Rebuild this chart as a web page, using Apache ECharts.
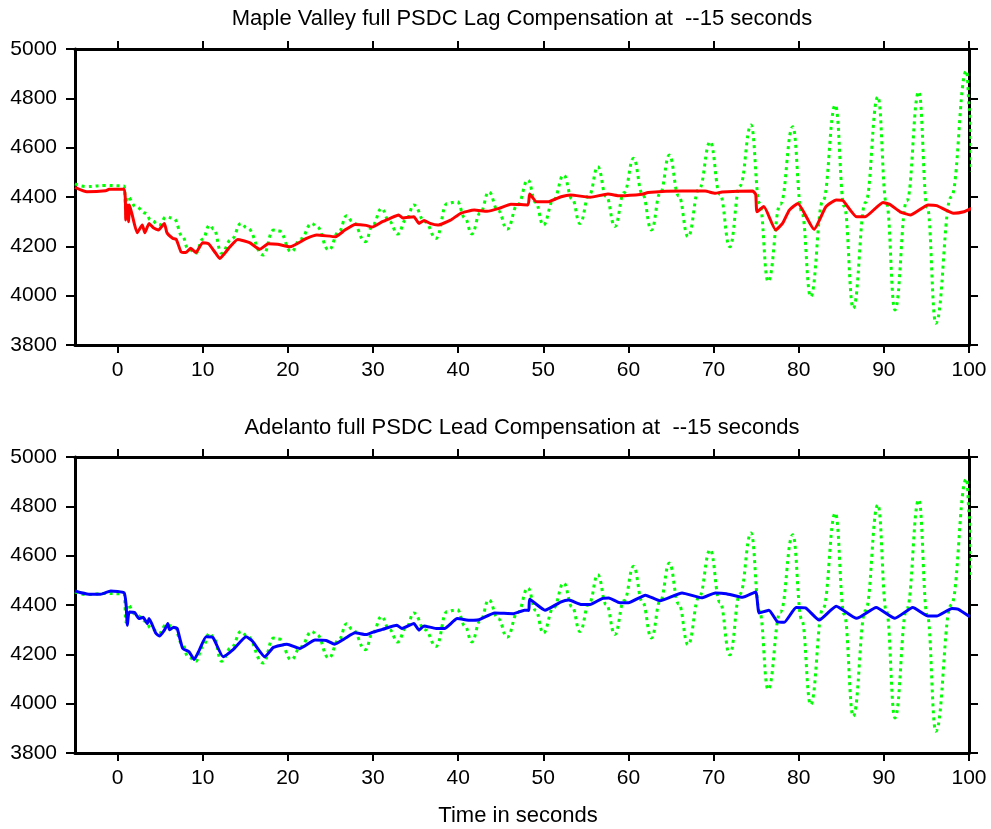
<!DOCTYPE html>
<html>
<head>
<meta charset="utf-8">
<script src="https://cdn.jsdelivr.net/npm/echarts@6/dist/echarts.min.js"></script>
<style>
html,body{margin:0;padding:0;background:#fff;}
#chart{width:991px;height:829px;}
</style>
</head>
<body>
<div id="chart"></div>
<script>
// ---- Data ----
const titleTop = "Maple Valley full PSDC Lag Compensation at  --15 seconds";
const titleBottom = "Adelanto full PSDC Lead Compensation at  --15 seconds";
const xTitle = "Time in seconds";
const xTicks = [0, 10, 20, 30, 40, 50, 60, 70, 80, 90, 100];
const yTicks = [3800, 4000, 4200, 4400, 4600, 4800, 5000];

// Base case (no PSDC compensation) - green dotted, same in both panels
const baseT = [-5, -3.7, -1.5, 0.77, 1.0, 1.15, 2.15, 3.3, 3.9, 4.9, 5.7, 6.6, 7.65, 8.24, 9.2, 10.0, 10.8, 11.3, 12.2, 13.4, 14.5, 15.2, 17.1, 18.3, 19.0, 20.4, 21.5, 22.8, 23.4, 24.8, 26.0, 26.9, 27.6, 29.1, 30.0, 31.0,
  31.9, 32.9, 33.9, 34.8, 36.1, 37.4, 38.7, 39.9, 40.8, 41.6, 42.6, 43.6, 44.7, 45.75, 47.0, 48.2, 49.1, 50.0, 51.2, 52.4, 53.4, 54.3, 55.4, 56.4, 57.4, 58.4, 59.5, 60.6, 61.65, 62.7, 63.75, 64.8, 65.9, 67.0, 68.3, 69.6, 70.75, 71.9, 73.1, 74.4, 75.4, 76.4, 77.85, 79.3, 80.35, 81.4, 82.85, 84.3, 85.35, 86.4, 87.85, 89.3, 90.3, 91.3, 92.7, 94.1, 95.1, 96.1, 97.9, 99.7, 100.1, 100.3];
const baseV = [4453, 4442, 4447, 4445, 4330, 4401, 4361, 4334, 4307, 4286, 4320, 4313, 4239, 4192, 4172, 4230, 4286, 4270, 4172, 4230, 4293, 4275, 4165, 4266, 4262, 4178, 4230, 4293, 4280, 4185, 4260, 4324, 4300, 4219, 4290, 4354,
  4302, 4250, 4309, 4368, 4300, 4232, 4374, 4381, 4315, 4250, 4336, 4421, 4345, 4269, 4369, 4469, 4378, 4286, 4388, 4489, 4391, 4293, 4408, 4523, 4402, 4280, 4418, 4557, 4412, 4266, 4418, 4570, 4405, 4239, 4432, 4624, 4411, 4198, 4445, 4692, 4375, 4057, 4371, 4685, 4341, 3996, 4385, 4773, 4361, 3949, 4378, 4807, 4375, 3942, 4385, 4827, 4358, 3888, 4400, 4912, 4750, 4503];

// Maple Valley lag compensation - red
const lagT = [-5, -3.6, -1.4, -1.0, 0.77, 0.97, 1.2, 1.3, 1.4, 1.7, 2.3, 2.9, 3.2, 3.7, 4.2, 4.8, 5.5, 5.8, 6.5, 6.9, 7.45, 8.0, 8.6, 9.2, 10.0, 10.7, 11.4, 12.0, 13.2, 14.1, 15.5, 16.7, 17.7, 18.8, 20.25, 22.2, 23.4, 25.6, 26.7, 27.9, 29.2, 29.9, 31.1, 32.0, 33.0, 33.5, 34.8, 35.4, 36.0, 36.7, 37.6, 39.1, 40.3, 41.9, 43.4, 44.8, 46.2, 48.2, 48.4, 49.2, 50.6, 52.1, 53.2, 55.5, 57.6, 59.0, 61.6, 62.3, 66.3, 69.0, 70.2, 71.0, 74.6, 74.95, 75.1, 75.9, 77.3, 78.1, 78.9, 79.9, 81.8, 83.2, 84.4, 85.2, 86.8, 87.8, 89.9, 90.7, 91.9, 93.1, 95.2, 96.2, 98.2, 99.4, 100.3];
const lagV = [4439, 4421, 4425, 4431, 4431, 4307, 4368, 4300, 4368, 4330, 4255, 4286, 4255, 4293, 4275, 4266, 4293, 4255, 4232, 4228, 4178, 4175, 4192, 4175, 4215, 4210, 4178, 4151, 4198, 4228, 4215, 4188, 4210, 4208, 4198, 4232, 4246, 4239, 4266, 4289, 4285, 4278, 4300, 4313, 4327, 4315, 4320, 4293, 4305, 4293, 4286, 4306, 4334, 4347, 4342, 4354, 4371, 4368, 4412, 4381, 4381, 4401, 4408, 4399, 4412, 4405, 4411, 4418, 4424, 4424, 4415, 4420, 4424, 4410, 4340, 4361, 4266, 4293, 4347, 4374, 4269, 4361, 4388, 4385, 4320, 4320, 4378, 4370, 4340, 4327, 4368, 4365, 4334, 4340, 4354];

// Adelanto lead compensation - blue
const leadT = [-5, -3.4, -2.0, -0.8, 0.77, 1.0, 1.15, 1.36, 2.0, 2.5, 3.0, 3.5, 3.7, 4.5, 4.9, 5.5, 5.9, 6.1, 6.6, 7.0, 7.65, 8.4, 9.0, 9.6, 10.4, 11.2, 12.4, 13.6, 15.1, 15.8, 17.3, 18.3, 19.9, 21.4, 23.2, 24.5, 25.5, 26.7, 27.9, 29.2, 30.0, 31.1, 32.8, 33.4, 34.8, 35.4, 36.0, 37.4, 38.4, 39.9, 41.5, 42.4, 44.3, 46.5, 47.8, 48.3, 48.4, 50.2, 52.1, 53.0, 54.5, 55.5, 56.9, 57.7, 59.0, 60.0, 62.0, 63.7, 66.3, 68.6, 70.2, 71.5, 73.4, 74.95, 75.35, 76.5, 77.5, 78.3, 79.7, 80.8, 82.4, 84.4, 86.8, 89.1, 91.3, 93.4, 95.2, 96.2, 98.0, 98.7, 100.1];
const leadV = [4457, 4444, 4444, 4457, 4449, 4400, 4318, 4372, 4370, 4345, 4350, 4325, 4345, 4285, 4274, 4298, 4325, 4300, 4310, 4305, 4224, 4210, 4179, 4217, 4271, 4268, 4190, 4220, 4271, 4255, 4190, 4228, 4241, 4224, 4258, 4256, 4241, 4264, 4287, 4280, 4290, 4301, 4318, 4305, 4325, 4298, 4315, 4305, 4305, 4345, 4338, 4340, 4368, 4365, 4379, 4378, 4423, 4379, 4413, 4420, 4402, 4402, 4426, 4428, 4409, 4409, 4440, 4417, 4449, 4429, 4449, 4446, 4431, 4453, 4368, 4379, 4332, 4330, 4390, 4388, 4339, 4395, 4346, 4390, 4346, 4390, 4355, 4355, 4386, 4383, 4352];

const zip = (t, v) => t.map((x, i) => [x, v[i]]);

// ---- Chart ----
const FONT = '"Liberation Sans", Arial, sans-serif';
const chart = echarts.init(document.getElementById('chart'), null, {renderer: 'canvas'});

const gridL = 75, gridW = 894, gridH = 296;
const tops = [49, 457];

function xAxes(gi) {
  const common = {
    type: 'value', gridIndex: gi, min: -5, max: 100,
    splitLine: {show: false},
    axisLine: {show: true, onZero: false, lineStyle: {color: '#000', width: 3}},
    axisTick: {show: true, inside: false, length: 8, customValues: xTicks, lineStyle: {color: '#000', width: 2}},
  };
  return [
    Object.assign({}, common, {
      position: 'bottom',
      axisLabel: {show: true, customValues: xTicks, margin: 15, fontSize: 21, color: '#000', fontFamily: FONT}
    }),
    Object.assign({}, common, {
      position: 'top',
      axisLabel: {show: false}
    })
  ];
}
function yAxes(gi) {
  const common = {
    type: 'value', gridIndex: gi, min: yTicks[0], max: yTicks[yTicks.length - 1], interval: 200,
    splitLine: {show: false},
    axisLine: {show: true, onZero: false, lineStyle: {color: '#000', width: 3}},
    axisTick: {show: true, inside: false, length: 9, lineStyle: {color: '#000', width: 2}},
  };
  return [
    Object.assign({}, common, {
      position: 'left',
      axisLabel: {show: true, margin: 18, fontSize: 21, color: '#000', fontFamily: FONT, formatter: v => String(v)}
    }),
    Object.assign({}, common, {
      position: 'right',
      axisLabel: {show: false}
    })
  ];
}

const greenStyle = {color: '#00ff00', width: 3, type: [3, 4], cap: 'butt'};

const option = {
  animation: false,
  backgroundColor: '#fff',
  grid: tops.map(t => ({left: gridL, top: t, width: gridW, height: gridH, containLabel: false})),
  xAxis: [...xAxes(0), ...xAxes(1)],
  yAxis: [...yAxes(0), ...yAxes(1)],
  graphic: [
    {type: 'text', x: gridL + gridW / 2, y: 19, style: {text: titleTop, fontSize: 22, fontFamily: FONT, fill: '#000', align: 'center', verticalAlign: 'middle'}},
    {type: 'text', x: gridL + gridW / 2, y: 428, style: {text: titleBottom, fontSize: 22, fontFamily: FONT, fill: '#000', align: 'center', verticalAlign: 'middle'}},
    {type: 'text', x: gridL + gridW / 2 - 4, y: 816, style: {text: xTitle, fontSize: 22, fontFamily: FONT, fill: '#000', align: 'center', verticalAlign: 'middle'}}
  ],
  series: [
    {type: 'line', xAxisIndex: 0, yAxisIndex: 0, data: zip(baseT, baseV), showSymbol: false, smooth: 0.45, smoothMonotone: 'x', lineStyle: greenStyle, z: 2},
    {type: 'line', xAxisIndex: 0, yAxisIndex: 0, data: zip(lagT, lagV), showSymbol: false, smooth: 0.15, lineStyle: {color: '#ff0000', width: 3}, z: 3},
    {type: 'line', xAxisIndex: 2, yAxisIndex: 2, data: zip(baseT, baseV), showSymbol: false, smooth: 0.45, smoothMonotone: 'x', lineStyle: greenStyle, z: 2},
    {type: 'line', xAxisIndex: 2, yAxisIndex: 2, data: zip(leadT, leadV), showSymbol: false, smooth: 0.15, lineStyle: {color: '#0000ff', width: 3}, z: 3}
  ]
};
chart.setOption(option);
</script>
</body>
</html>
